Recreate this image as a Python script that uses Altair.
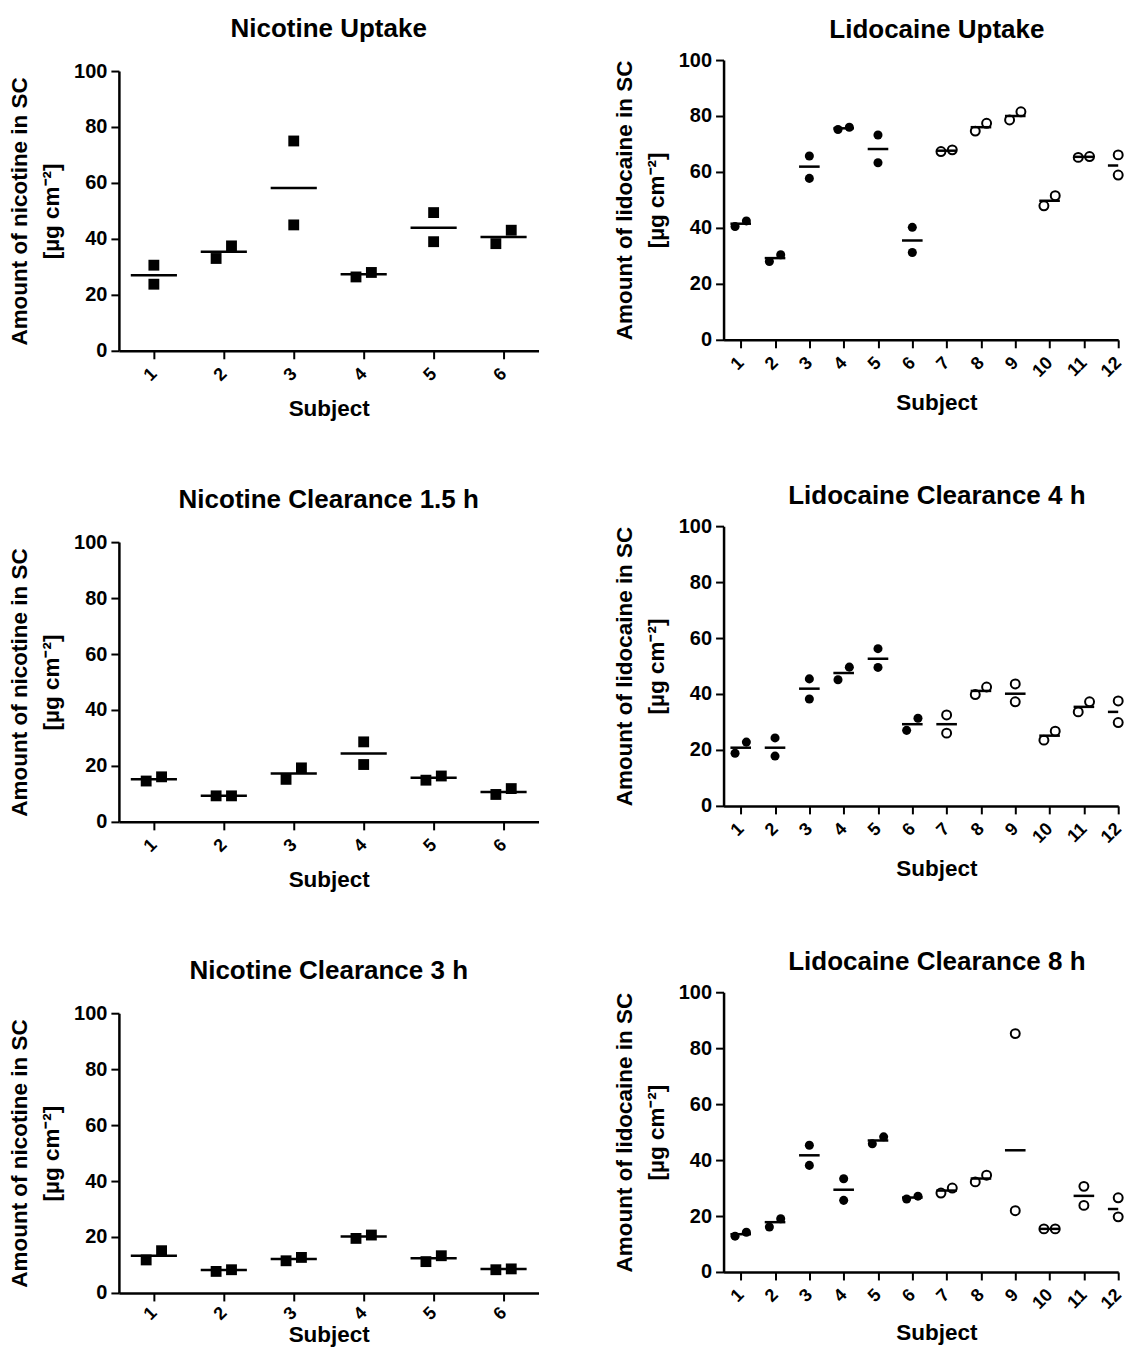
import altair as alt
import pandas as pd

# ---------------- data ----------------
nic_subjects = [1, 2, 3, 4, 5, 6]
lid_subjects = [1, 2, 3, 4, 5, 6, 7, 8, 9, 10, 11, 12]

# Nicotine Uptake
nu_rep1 = [30.6, 33.0, 75.0, 26.4, 49.4, 38.3]
nu_rep2 = [23.8, 37.5, 45.0, 28.0, 39.0, 43.1]
nu_mean = [27.0, 35.4, 58.2, 27.4, 44.0, 40.7]

# Nicotine Clearance 1.5 h
nc15_rep1 = [14.6, 9.3, 15.2, 28.6, 14.9, 9.8]
nc15_rep2 = [16.1, 9.3, 19.3, 20.5, 16.4, 11.9]
nc15_mean = [15.2, 9.3, 17.3, 24.4, 15.8, 10.7]

# Nicotine Clearance 3 h
nc3_rep1 = [11.8, 7.7, 11.5, 19.5, 11.2, 8.3]
nc3_rep2 = [15.1, 8.3, 12.7, 20.7, 13.3, 8.6]
nc3_mean = [13.3, 8.2, 12.1, 20.2, 12.4, 8.6]

# Lidocaine Uptake
lu_rep1 = [40.5, 28.0, 65.7, 75.2, 73.2, 40.2, 67.3, 74.6, 78.6, 47.9, 65.2, 66.1]
lu_rep2 = [42.5, 30.4, 57.7, 76.0, 63.3, 31.2, 67.9, 77.4, 81.5, 51.5, 65.5, 58.9]
lu_mean = [41.5, 29.2, 61.9, 75.6, 68.2, 35.5, 67.6, 76.0, 80.0, 49.7, 65.4, 62.3]

# Lidocaine Clearance 4 h
lc4_rep1 = [18.8, 24.3, 45.4, 45.1, 56.2, 27.0, 32.5, 39.8, 43.6, 23.5, 33.6, 37.5]
lc4_rep2 = [22.8, 17.8, 38.2, 49.6, 49.5, 31.3, 26.0, 42.5, 37.2, 26.7, 37.2, 29.8]
lc4_mean = [20.8, 20.8, 41.9, 47.5, 52.6, 29.2, 29.2, 41.1, 40.1, 25.1, 35.4, 33.6]

# Lidocaine Clearance 8 h
lc8_rep1 = [12.8, 16.1, 45.3, 33.3, 45.8, 26.1, 28.2, 32.2, 85.2, 15.4, 30.6, 26.5]
lc8_rep2 = [14.2, 19.0, 38.1, 25.6, 48.3, 27.1, 30.0, 34.6, 21.9, 15.4, 23.8, 19.7]
lc8_mean = [13.5, 17.8, 41.7, 29.4, 47.0, 26.6, 29.1, 33.4, 43.5, 15.4, 27.2, 22.5]

Y_TICKS = [0, 20, 40, 60, 80, 100]
NIC_YTITLE = ["Amount of nicotine in SC", "[µg cm⁻²]"]
LID_YTITLE = ["Amount of lidocaine in SC", "[µg cm⁻²]"]

FONT = "Liberation Sans"
SIDE_GAP = 5.5   # replicates closer than this (in µg cm-2) are drawn side by side


def build_frames(subjects, rep1, rep2, means, open_from, x_off, half_len, xmax):
    pts = []
    for s, a, b in zip(subjects, rep1, rep2):
        lo, hi = sorted([a, b])
        side = abs(a - b) < SIDE_GAP
        kind = "open" if (open_from is not None and s >= open_from) else "filled"
        pts.append({"subject": s, "value": lo, "xpos": s - (x_off if side else 0), "kind": kind})
        pts.append({"subject": s, "value": hi, "xpos": s + (x_off if side else 0), "kind": kind})
    mean_rows = [{"subject": s, "mean": m, "x1": s - half_len, "x2": min(s + half_len, xmax)}
                 for s, m in zip(subjects, means)]
    return pd.DataFrame(pts), pd.DataFrame(mean_rows)


def panel(title, subjects, rep1, rep2, means, ytitle, width, xmax, title_offset,
          x_title_pad, drug="nic", open_from=None, top_gap=0, title_dx=0,
          xtitle_x=None, label_pad=12):
    if drug == "nic":
        x_off, half_len = 0.11, 0.33
    else:
        x_off, half_len = 0.165, 0.30
    pts, mns = build_frames(subjects, rep1, rep2, means, open_from, x_off, half_len, xmax)

    plot_h = 280
    xscale = alt.Scale(domain=[0.5, xmax], nice=False, zero=False)
    ax_kw = dict(values=subjects, title="Subject", labelAngle=-45, labelAlign="right",
                 labelBaseline="middle", labelPadding=label_pad, labelFontSize=18,
                 labelOverlap=False, labelFlush=False, titlePadding=x_title_pad,
                 titleFontSize=22.5)
    if xtitle_x is not None:
        ax_kw["titleX"] = xtitle_x
        ax_kw["titleAlign"] = "center"
    xaxis = alt.Axis(**ax_kw)
    yscale = alt.Scale(domain=[0, 100], nice=False, zero=True,
                       range=[plot_h + top_gap, top_gap])
    yaxis = alt.Axis(values=Y_TICKS, title=ytitle, labelFontSize=20, labelPadding=4,
                     labelFlush=False, titleFontSize=22.5, titleLineHeight=32,
                     titlePadding=10)
    X = lambda f: alt.X(f, scale=xscale, axis=xaxis)
    Y = lambda f: alt.Y(f, scale=yscale, axis=yaxis)

    base_pts = alt.Chart(pts)
    layers = []
    if drug == "nic":
        layers.append(base_pts.mark_point(shape="square", filled=True, size=118,
                                          color="black", opacity=1).encode(
            x=X("xpos:Q"), y=Y("value:Q")))
    else:
        layers.append(base_pts.transform_filter(alt.datum.kind == "filled").mark_point(
            shape="circle", filled=True, size=82, color="black", opacity=1).encode(
            x=X("xpos:Q"), y=Y("value:Q")))
        layers.append(base_pts.transform_filter(alt.datum.kind == "open").mark_point(
            shape="circle", filled=False, size=80, color="black", strokeWidth=2,
            opacity=1).encode(x=X("xpos:Q"), y=Y("value:Q")))
    layers.append(alt.Chart(mns).mark_rule(color="black", strokeWidth=2.5).encode(
        x=X("x1:Q"), x2="x2:Q", y=Y("mean:Q")))

    tp = dict(offset=title_offset, frame="group", anchor="middle")
    if title_dx:
        tp["dx"] = title_dx
    return alt.layer(*layers).properties(
        width=width, height=plot_h + top_gap, title=alt.TitleParams(title, **tp))


NIC_W, LID_W = 420, 395
NIC_XMAX, LID_XMAX = 6.5, 12.0

left = alt.vconcat(
    panel("Nicotine Uptake", nic_subjects, nu_rep1, nu_rep2, nu_mean, NIC_YTITLE,
          NIC_W, NIC_XMAX, 18, 13, top_gap=11),
    panel("Nicotine Clearance 1.5 h", nic_subjects, nc15_rep1, nc15_rep2, nc15_mean, NIC_YTITLE,
          NIC_W, NIC_XMAX, 18, 13, top_gap=11),
    panel("Nicotine Clearance 3 h", nic_subjects, nc3_rep1, nc3_rep2, nc3_mean, NIC_YTITLE,
          NIC_W, NIC_XMAX, 18, 0, top_gap=11, label_pad=9),
    spacing=67.5,
)
right = alt.vconcat(
    panel("Lidocaine Uptake", lid_subjects, lu_rep1, lu_rep2, lu_mean, LID_YTITLE,
          LID_W, LID_XMAX, 7, 11.5, "lid", 7, title_dx=16, xtitle_x=213),
    panel("Lidocaine Clearance 4 h", lid_subjects, lc4_rep1, lc4_rep2, lc4_mean, LID_YTITLE,
          LID_W, LID_XMAX, 7, 11.5, "lid", 7, title_dx=16, xtitle_x=213),
    panel("Lidocaine Clearance 8 h", lid_subjects, lc8_rep1, lc8_rep2, lc8_mean, LID_YTITLE,
          LID_W, LID_XMAX, 7, 9.5, "lid", 7, title_dx=16, xtitle_x=213),
    spacing=68.5,
)

chart = alt.hconcat(left, right, spacing=74.2).properties(
    padding={"left": 0, "top": 7.5, "right": 0, "bottom": 0},
).configure_view(stroke=None).configure_axis(
    grid=False, domainColor="black", domainWidth=2.5, tickColor="black", tickWidth=2,
    tickSize=8, labelFont=FONT, labelFontWeight="bold", labelColor="black",
    titleFont=FONT, titleFontWeight="bold", titleColor="black",
).configure_title(font=FONT, fontSize=26, fontWeight="bold", color="black")

chart.save("out.html", embed_options={"renderer": "svg", "actions": False})
